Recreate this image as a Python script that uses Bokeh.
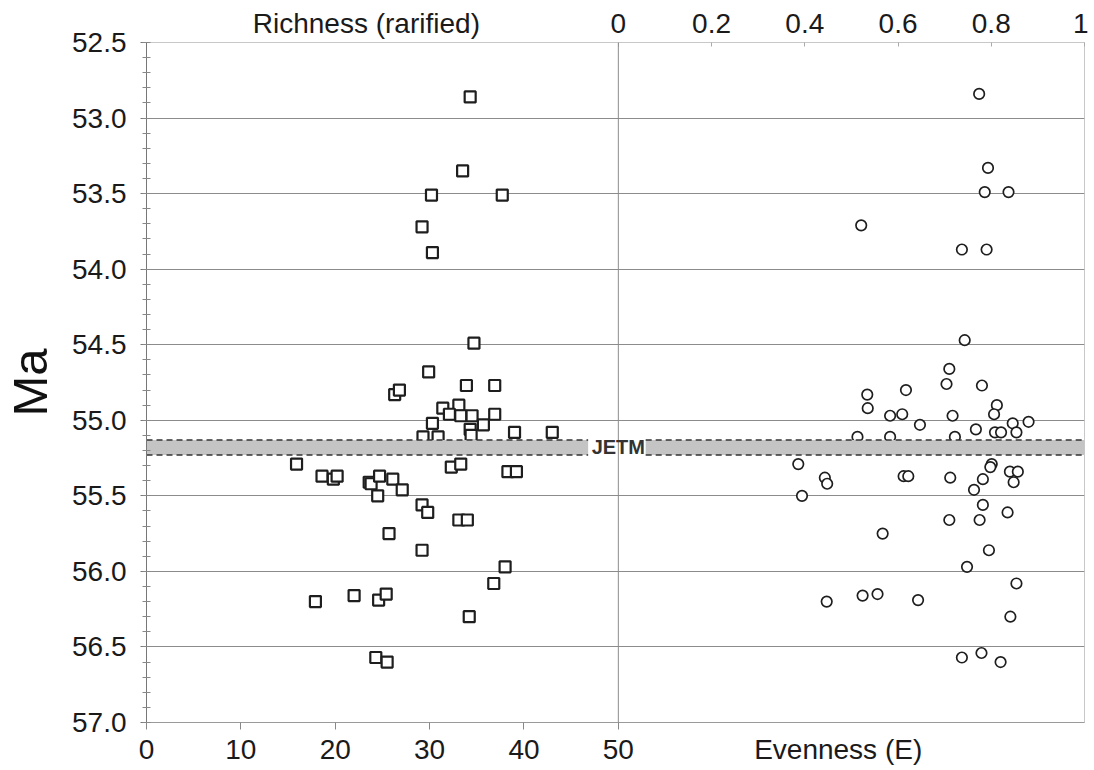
from bokeh.plotting import figure
from bokeh.models import Range1d, LinearAxis, FixedTicker, Label, Span
from bokeh.embed import file_html
from bokeh.resources import INLINE

# ---------------- data ----------------
richness = [34.3, 33.5, 30.2, 37.7, 29.2, 30.3, 34.7, 29.9, 33.9, 36.9,
            26.3, 26.8, 31.4, 33.1, 32.1, 33.3, 34.5, 36.9, 30.3, 35.7,
            34.3, 34.4, 29.3, 30.9, 39.0, 43.0, 15.9, 18.6, 19.8, 20.2,
            23.6, 23.8, 24.7, 26.1, 27.1, 24.5, 32.3, 33.3, 38.3, 39.2,
            29.2, 29.8, 33.1, 34.0, 25.7, 29.2, 38.0, 36.8, 17.9, 22.0,
            24.6, 25.4, 34.2, 24.3, 25.5]
richness_ma = [52.86, 53.35, 53.51, 53.51, 53.72, 53.89, 54.49, 54.68, 54.77, 54.77,
               54.83, 54.80, 54.92, 54.90, 54.96, 54.97, 54.97, 54.96, 55.02, 55.03,
               55.06, 55.10, 55.11, 55.11, 55.08, 55.08, 55.29, 55.37, 55.39, 55.37,
               55.41, 55.42, 55.37, 55.39, 55.46, 55.50, 55.31, 55.29, 55.34, 55.34,
               55.56, 55.61, 55.66, 55.66, 55.75, 55.86, 55.97, 56.08, 56.20, 56.16,
               56.19, 56.15, 56.30, 56.57, 56.60]

evenness = [0.774, 0.793, 0.786, 0.837, 0.521, 0.737, 0.790,
            0.743, 0.710, 0.704, 0.780, 0.617, 0.534, 0.535, 0.583, 0.609,
            0.717, 0.812, 0.806, 0.647, 0.846, 0.880, 0.767, 0.808, 0.821,
            0.854, 0.513, 0.583, 0.722, 0.386, 0.443, 0.448, 0.394, 0.612,
            0.622, 0.712, 0.801, 0.798, 0.782, 0.840, 0.857, 0.848, 0.763,
            0.782, 0.835, 0.710, 0.775,
            0.567, 0.795, 0.748, 0.854, 0.447, 0.524, 0.556, 0.643, 0.841,
            0.737, 0.779, 0.820]
evenness_ma = [52.84, 53.33, 53.49, 53.49, 53.71, 53.87, 53.87,
               54.47, 54.66, 54.76, 54.77, 54.80, 54.83, 54.92, 54.97, 54.96,
               54.97, 54.90, 54.96, 55.03, 55.02, 55.01, 55.06, 55.08, 55.08,
               55.08, 55.11, 55.11, 55.11, 55.29, 55.38, 55.42, 55.50, 55.37,
               55.37, 55.38, 55.29, 55.31, 55.39, 55.34, 55.34, 55.41, 55.46,
               55.56, 55.61, 55.66, 55.66,
               55.75, 55.86, 55.97, 56.08, 56.20, 56.16, 56.15, 56.19, 56.30,
               56.57, 56.54, 56.60]

ma_ticks = [52.5, 53.0, 53.5, 54.0, 54.5, 55.0, 55.5, 56.0, 56.5, 57.0]
ma_tick_labels = ["52.5", "53.0", "53.5", "54.0", "54.5", "55.0", "55.5", "56.0", "56.5", "57.0"]
richness_ticks = [0, 10, 20, 30, 40, 50]
richness_tick_labels = ["0", "10", "20", "30", "40", "50"]
evenness_ticks = [0, 0.2, 0.4, 0.6, 0.8, 1]
evenness_tick_labels = ["0", "0.2", "0.4", "0.6", "0.8", "1"]
richness_title = "Richness (rarified)"
evenness_title = "Evenness (E)"
jetm_top, jetm_bottom = 55.13, 55.23

FONT = "Liberation Sans"
R_MAX = 99.4          # richness units spanning the whole frame
E_SCALE = 49.4        # richness units per 1.0 of evenness (right panel)
rich_title_pos = 23.3     # richness units, centre of top-left title
even_title_pos = 73.3     # richness units, centre of bottom-right title

# ---------------- figure ----------------
p = figure(frame_width=938, frame_height=680,
           x_range=Range1d(0, R_MAX), y_range=Range1d(57.0, 52.5),
           output_backend="svg", toolbar_location=None,
           min_border_left=142, min_border_right=4,
           min_border_top=42, min_border_bottom=40)
p.extra_x_ranges = {"even": Range1d(-50 / E_SCALE, (R_MAX - 50) / E_SCALE)}
p.background_fill_color = "white"
p.border_fill_color = "white"
p.outline_line_color = "#c8c8c8"
p.outline_line_width = 1

# y axis
ya = p.yaxis[0]
ya.ticker = FixedTicker(ticks=ma_ticks,
                        minor_ticks=[round(52.5 + 0.1 * i, 1) for i in range(46)])
ya.major_label_overrides = {t: l for t, l in zip(ma_ticks, ma_tick_labels)}
ya.axis_label = "Ma"
ya.axis_label_text_font = FONT
ya.axis_label_text_font_style = "normal"
ya.axis_label_text_font_size = "49px"
ya.axis_label_text_color = "#111111"
ya.axis_label_standoff = 12
ya.major_label_text_font = FONT
ya.major_label_text_font_size = "28px"
ya.major_label_text_color = "#1a1a1a"
ya.major_label_standoff = 14
ya.axis_line_color = "#777777"
ya.major_tick_line_color = "#777777"
ya.minor_tick_line_color = "#888888"
ya.major_tick_in = 2
ya.major_tick_out = 6
ya.minor_tick_in = 4
ya.minor_tick_out = 4

# bottom axis: richness ticks + evenness title on the same line
xa = p.xaxis[0]
xa.ticker = FixedTicker(ticks=richness_ticks + [even_title_pos], minor_ticks=richness_ticks)
xa.major_label_overrides = dict(zip(richness_ticks + [even_title_pos],
                                    richness_tick_labels + [evenness_title]))
xa.major_label_text_font = FONT
xa.major_label_text_font_size = "28px"
xa.major_label_text_color = "#1a1a1a"
xa.major_label_standoff = 4
xa.axis_line_color = "#9a9a9a"
xa.major_tick_in = 0
xa.major_tick_out = 0
xa.minor_tick_line_color = "#888888"
xa.minor_tick_in = 0
xa.minor_tick_out = 7

# top axis: evenness ticks + richness title on the same line
rich_title_even = (rich_title_pos - 50) / E_SCALE
ta = LinearAxis(x_range_name="even",
                ticker=FixedTicker(ticks=[rich_title_even] + evenness_ticks,
                                   minor_ticks=evenness_ticks))
ta.major_label_overrides = dict(zip([rich_title_even] + evenness_ticks,
                                    [richness_title] + evenness_tick_labels))
ta.major_label_text_font = FONT
ta.major_label_text_font_size = "28px"
ta.major_label_text_color = "#1a1a1a"
ta.major_label_standoff = 4
ta.axis_line_color = "#c8c8c8"
ta.major_tick_in = 0
ta.major_tick_out = 0
ta.minor_tick_line_color = "#aaaaaa"
ta.minor_tick_in = 4
ta.minor_tick_out = 0
p.add_layout(ta, "above")

# grid
p.xgrid.grid_line_color = None
p.ygrid.ticker = FixedTicker(ticks=ma_ticks)
p.ygrid.grid_line_color = "#8c8c8c"
p.ygrid.grid_line_width = 1

p.add_layout(Span(location=50, dimension="height", line_color="#8c8c8c", line_width=1))

# data
p.scatter(richness, richness_ma, marker="square", size=11,
          fill_color="white", line_color="#1e1e1e", line_width=2.2)
p.scatter(evenness, evenness_ma, marker="circle", size=10.5, x_range_name="even",
          fill_color="white", line_color="#1e1e1e", line_width=1.7)

# JETM band (interrupted by its label)
band_left = [0, 52.9]
band_right = [46.8, R_MAX]
p.quad(left=band_left, right=band_right, top=jetm_top, bottom=jetm_bottom,
       fill_color="#c4c4c4", line_color=None)
p.segment(x0=band_left + band_left, x1=band_right + band_right,
          y0=[jetm_top] * 2 + [jetm_bottom] * 2, y1=[jetm_top] * 2 + [jetm_bottom] * 2,
          line_color="#333333", line_width=1.5, line_dash="6 4")
p.add_layout(Label(x=50, y=(jetm_top + jetm_bottom) / 2, text="JETM",
                   text_align="center", text_baseline="middle",
                   text_font=FONT, text_font_style="bold",
                   text_font_size="20px", text_color="#333333"))

open("out.html", "w").write(file_html(p, INLINE))
